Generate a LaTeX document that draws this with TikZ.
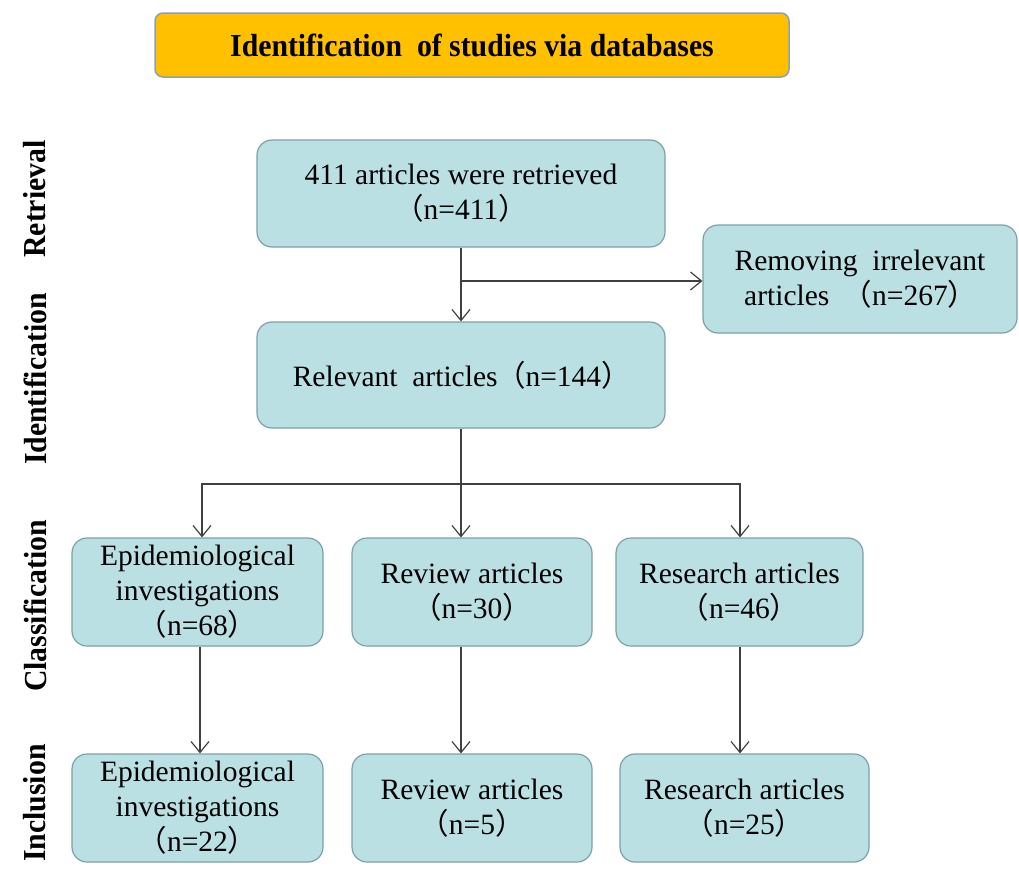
\documentclass[tikz,border=0pt]{standalone}
\usepackage{fontspec}
\setmainfont{Liberation Serif}
\newfontfamily\cjk{Noto Sans CJK SC}
\newfontfamily\narrowserif[FakeStretch=0.93]{Liberation Serif}
\usetikzlibrary{arrows.meta,positioning}
\definecolor{boxfill}{RGB}{187,224,227}
\definecolor{boxline}{RGB}{125,160,166}
\definecolor{bannerfill}{RGB}{255,192,0}
\definecolor{bannerline}{RGB}{140,160,180}
\definecolor{linegray}{RGB}{64,64,64}
\newcommand{\lpar}{\makebox[0.95em][r]{\cjk （}}
\newcommand{\rpar}{\makebox[0.95em][l]{\cjk ）}}
\tikzstyle{stage}=[draw=boxline,fill=boxfill,rounded corners=15pt,line width=1.2pt,align=center,inner sep=0pt,font=\fontsize{29.5}{35}\selectfont]
\tikzstyle{banner}=[draw=bannerline,fill=bannerfill,rounded corners=8pt,line width=1.5pt,inner sep=0pt,font=\narrowserif\bfseries\fontsize{32}{36}\selectfont]
\tikzstyle{phase}=[rotate=90,inner sep=0pt,font=\narrowserif\bfseries\fontsize{32}{36}\selectfont]
\tikzstyle{flow}=[draw=linegray,line width=1.2pt,-{Straight Barb[length=11pt,width=18pt]}]

\begin{document}
\begin{tikzpicture}[x=1pt,y=-1pt]
\useasboundingbox (0,0) rectangle (1019,870);
\node [banner,minimum width=634pt,minimum height=64pt] (title) at (472,45) {Identification\ \ of studies via databases};
% stage labels on the left
\node [phase] (retrieval) at (35,199) {Retrieval};
\node [phase] (identification) at (35,379) {Identification};
\node [phase] (classification) at (35,606) {Classification};
\node [phase] (inclusion) at (35,803) {Inclusion};
% boxes
\node [stage,minimum width=408pt,minimum height=107pt] (retrieved) at (461,193.5) {411 articles were retrieved\\\lpar n=411\rpar};
\node [stage,minimum width=314pt,minimum height=108pt] (removed) at (860,279) {Removing\ \ irrelevant\\articles\ \ \lpar n=267\rpar};
\node [stage,minimum width=408pt,minimum height=106pt] (relevant) at (461,375) {Relevant\ \ articles\lpar n=144\rpar};
\node [stage,minimum width=251pt,minimum height=108pt] (epiC) at (197.5,592) {Epidemiological\\investigations\\\lpar n=68\rpar};
\node [stage,minimum width=240pt,minimum height=108pt] (reviewC) at (472,592) {Review articles\\\lpar n=30\rpar};
\node [stage,minimum width=247pt,minimum height=108pt] (researchC) at (739.5,592) {Research articles\\\lpar n=46\rpar};
\node [stage,minimum width=251pt,minimum height=108pt] (epiI) at (197.5,808) {Epidemiological\\investigations\\\lpar n=22\rpar};
\node [stage,minimum width=240pt,minimum height=108pt] (reviewI) at (472,808) {Review articles\\\lpar n=5\rpar};
\node [stage,minimum width=249pt,minimum height=108pt] (researchI) at (744.5,808) {Research articles\\\lpar n=25\rpar};
% connectors
\coordinate (split) at (461,281);
\coordinate (fork) at (461,484);
\draw [flow] (retrieved.south) -- (relevant.north);
\draw [flow] (split) -- (split -| removed.west);
\draw [draw=linegray,line width=1.2pt] (relevant.south) -- (fork);
\draw [flow] (fork) -| ([xshift=4.5pt]epiC.north);
\draw [flow] (fork) -- ([xshift=-11pt]reviewC.north);
\draw [flow] (fork) -| ([xshift=0.5pt]researchC.north);
\draw [flow] ([xshift=2.5pt]epiC.south) -- ([xshift=2.5pt]epiI.north);
\draw [flow] ([xshift=-11pt]reviewC.south) -- ([xshift=-11pt]reviewI.north);
\draw [flow] ([xshift=0.5pt]researchC.south) -- ([xshift=-4.5pt]researchI.north);
\end{tikzpicture}
\end{document}
